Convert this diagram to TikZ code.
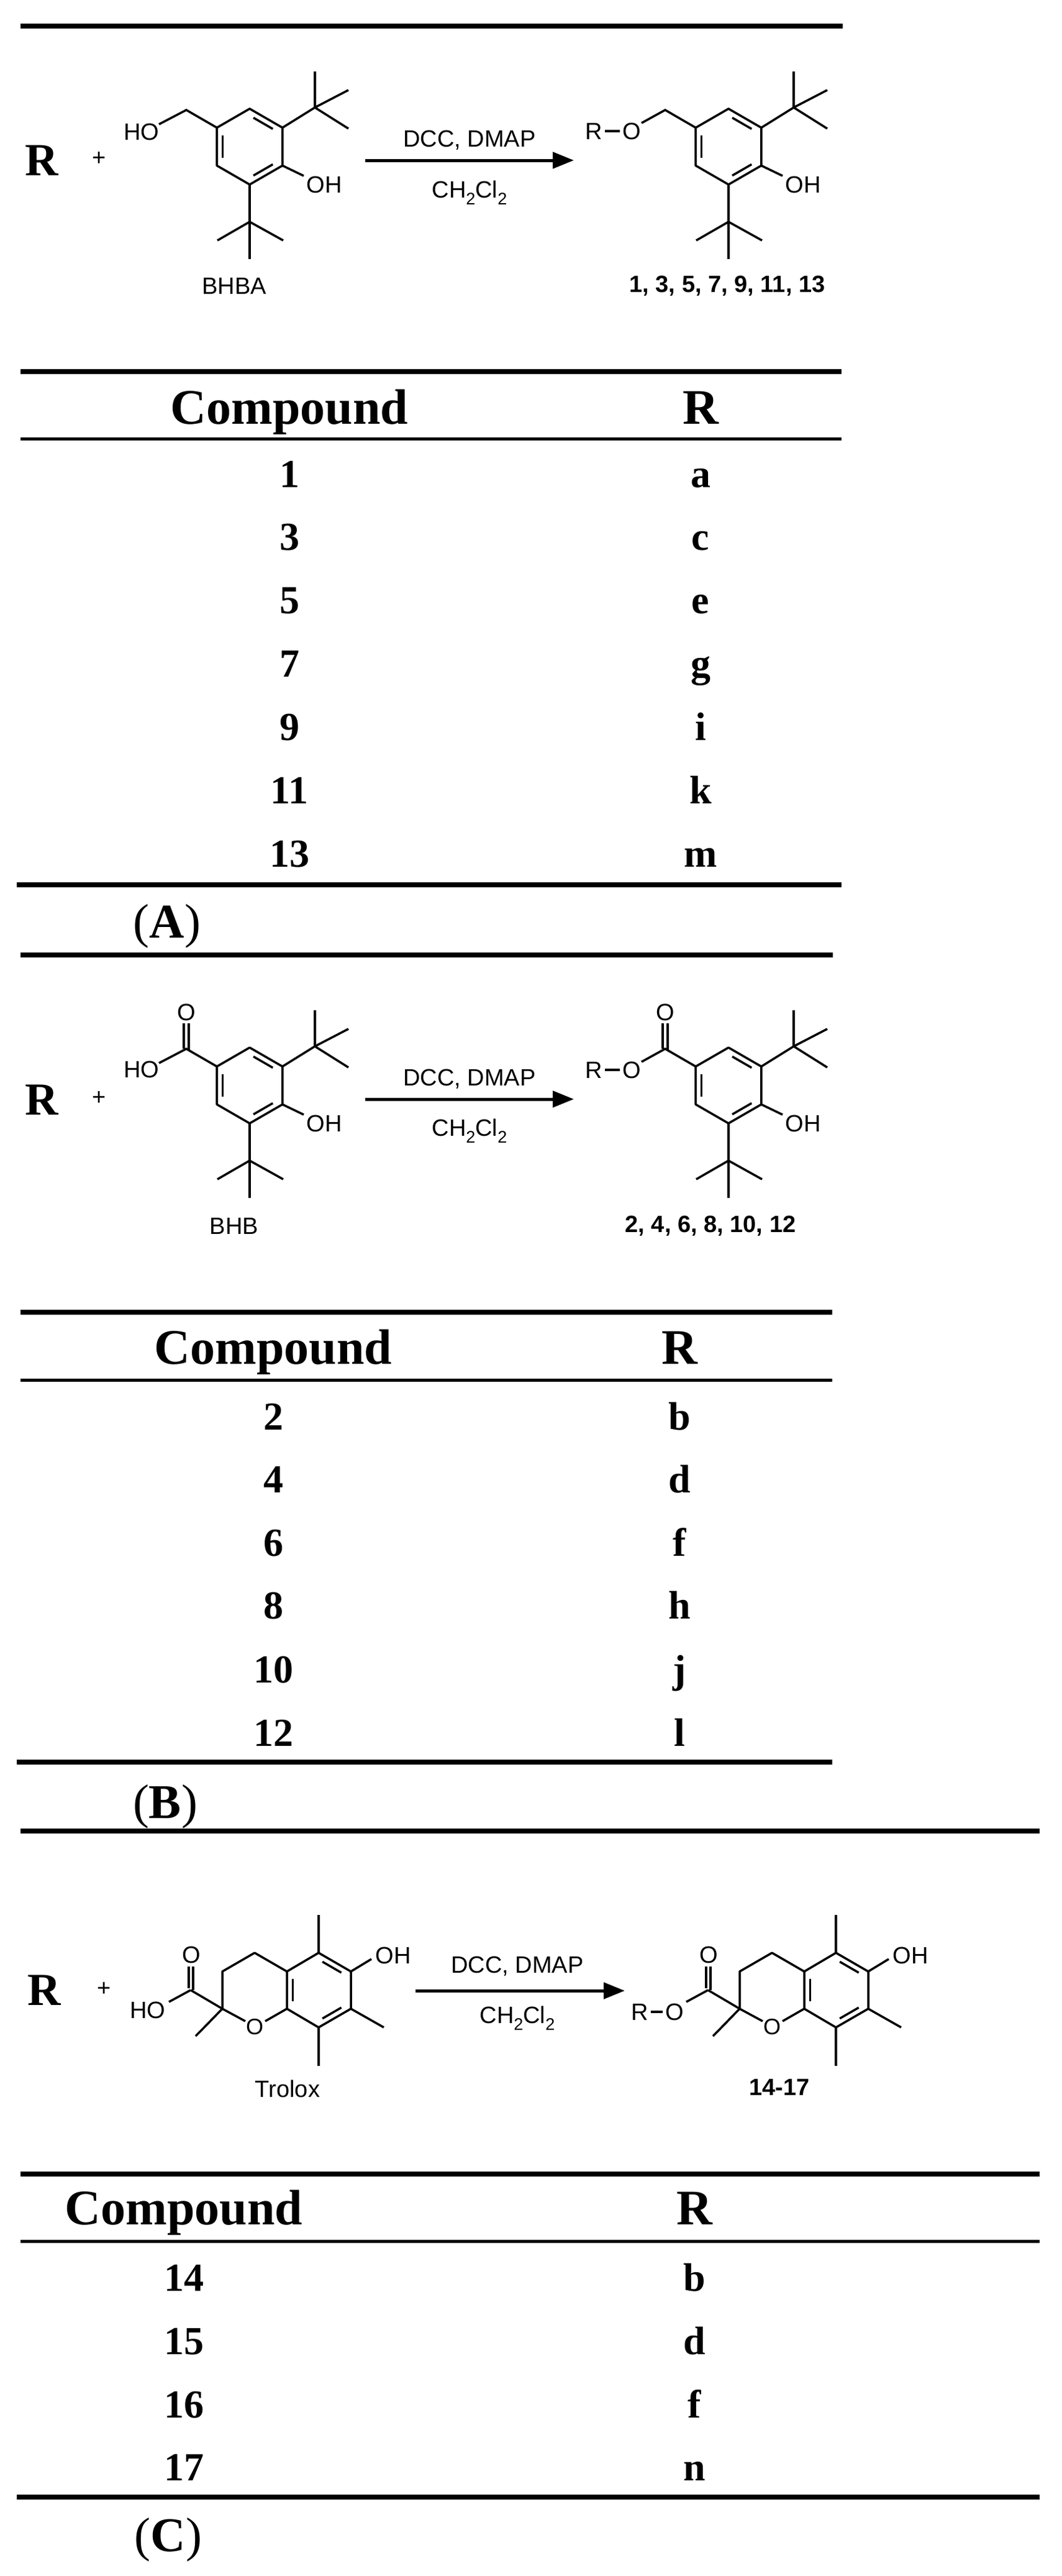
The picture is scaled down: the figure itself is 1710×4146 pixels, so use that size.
\documentclass[tikz,border=0pt]{standalone}
\usepackage{fontspec}
\setmainfont{Liberation Serif}
\newfontfamily\arial{Liberation Sans}
\usetikzlibrary{arrows.meta,calc}
\newcommand\chs[1]{\raisebox{-0.3em}{\fontsize{27}{27}\selectfont #1}}
\tikzset{
  bond/.style={line width=3.5pt},
  lab/.style={font=\arial\fontsize{38}{40}\selectfont, inner sep=0pt},
  blab/.style={font=\arial\bfseries\fontsize{38}{40}\selectfont, inner sep=0pt},
  thickrule/.style={line width=8pt},
  thinrule/.style={line width=5pt},
  hdr/.style={font=\bfseries\fontsize{80}{84}\selectfont, anchor=base, inner sep=0pt},
  cell/.style={font=\bfseries\fontsize{64}{66}\selectfont, anchor=base, inner sep=0pt},
  panel/.style={font=\fontsize{78}{80}\selectfont, anchor=base, inner sep=0pt},
  bigR/.style={font=\bfseries\fontsize{74}{76}\selectfont, inner sep=0pt},
  rxn/.style={line width=5pt, -{Triangle[length=34pt,width=26pt]}}
}
% ring with t-Bu groups and OH, local coordinates around ring centre
\newcommand\bhbcore{%
  \coordinate (C0) at (0,0);
  \coordinate (T) at (0,-61); \coordinate (UR) at (52.8,-30.5);
  \coordinate (LR) at (52.8,30.5); \coordinate (BT) at (0,61);
  \coordinate (LL) at (-52.8,30.5); \coordinate (UL) at (-52.8,-30.5);
  \draw[bond,line join=round] (T)--(UR)--(LR)--(BT)--(LL)--(UL)--cycle;
  \draw[bond,shorten <=7pt,shorten >=7pt] ($(T)!0.18!(C0)$)--($(UR)!0.18!(C0)$);
  \draw[bond,shorten <=7pt,shorten >=7pt] ($(LL)!0.18!(C0)$)--($(UL)!0.18!(C0)$);
  \draw[bond,shorten <=7pt,shorten >=7pt] ($(LR)!0.18!(C0)$)--($(BT)!0.18!(C0)$);
  \draw[bond] (UR)--(105,-63) coordinate (Q1);
  \draw[bond] (Q1)--(105,-121); \draw[bond] (Q1)--(159,-91); \draw[bond] (Q1)--(159,-29);
  \draw[bond] (LR)--(87,47);
  \node[lab] (oh) at (120,61) {OH};
  \draw[bond] (BT)--(0,121) coordinate (Q2);
  \draw[bond] (Q2)--(-52,151); \draw[bond] (Q2)--(54,151); \draw[bond] (Q2)--(0,181);
}
\newcommand\trolox{%
  \coordinate (C5) at (513,3143); \coordinate (C6) at (565,3173);
  \coordinate (C7) at (565,3233); \coordinate (C8) at (513,3263);
  \coordinate (C8a) at (462,3233); \coordinate (C4a) at (462,3173);
  \coordinate (Cc) at (513.5,3203);
  \coordinate (C4) at (410,3143); \coordinate (C3) at (358,3173);
  \coordinate (C2) at (358,3233); \coordinate (CO) at (307,3203);
  \draw[bond,line join=round] (C5)--(C6)--(C7)--(C8)--(C8a)--(C4a)--cycle;
  \draw[bond,shorten <=7pt,shorten >=7pt] ($(C5)!0.18!(Cc)$)--($(C6)!0.18!(Cc)$);
  \draw[bond,shorten <=7pt,shorten >=7pt] ($(C7)!0.18!(Cc)$)--($(C8)!0.18!(Cc)$);
  \draw[bond,shorten <=7pt,shorten >=7pt] ($(C8a)!0.18!(Cc)$)--($(C4a)!0.18!(Cc)$);
  \draw[bond,line join=round] (C4a)--(C4)--(C3)--(C2)--(395,3253);
  \node[lab,font=\arial\fontsize{36}{38}\selectfont] (o1) at (410,3262) {O};
  \draw[bond] (C8a)--(427,3253);
  \draw[bond] (C2)--(315,3277);
  \draw[bond] (C2)--(CO);
  \draw[bond] (304,3200)--(304,3165); \draw[bond] (311,3203)--(311,3165);
  \node[lab] (ocarb) at (308,3146) {O};
  \draw[bond] (C5)--(513,3082);
  \draw[bond] (C6)--(598,3153);
  \node[lab] (oh3) at (633,3147) {OH};
  \draw[bond] (C7)--(618,3263);
  \draw[bond] (C8)--(513,3325);
}
\begin{document}
\begin{tikzpicture}[x=1pt,y=-1pt]
\useasboundingbox (0,0) rectangle (1710,4146);
\fill[white] (0,0) rectangle (1710,4146);

% ===== Scheme A =====
\draw[thickrule] (33,42)--(1357,42);
\node[bigR] (ra) at (67,258) {R};
\node[lab] (pa) at (160,256) {+};
\begin{scope}[shift={(402,236)}]
  \bhbcore
  \draw[bond] (UL)--(-102,-59)--(-146,-36);
  \node[lab] (hoa) at (-174,-24) {HO};
\end{scope}
\node[lab] (bhba) at (377,460) {BHBA};
\coordinate (a1) at (588,258); \coordinate (a2) at (924,258);
\draw[rxn] (a1)--(a2);
\node[lab] (ca1) at (756,226) {DCC, DMAP};
\node[lab] (ca2) at (756,310) {CH\chs{2}Cl\chs{2}};
\begin{scope}[shift={(1173,236)}]
  \bhbcore
  \draw[bond] (UL)--(-102,-59)--(-140,-38);
  \node[lab] (roa) at (-217,-25) {R};
  \node[lab] (ooa) at (-156,-25) {O};
  \draw[bond] (roa.east)++(4,0) -- ($(ooa.west)+(-4,0)$);
\end{scope}
\node[blab] (pra) at (1171,460) {1, 3, 5, 7, 9, 11, 13};

% ===== Table A =====
\draw[thickrule] (33,598)--(1355,598);
\node[hdr] (hca) at (466,682) {Compound};
\node[hdr] (hra) at (1128,682) {R};
\draw[thinrule] (33,706)--(1355,706);
\foreach \n/\r/\y in {1/a/784, 3/c/885, 5/e/987, 7/g/1089, 9/i/1191, 11/k/1293, 13/m/1395}{
  \node[cell] (na\n) at (466,\y) {\n};
  \node[cell] (la\n) at (1128,\y) {\r};
}
\draw[thickrule] (27,1424)--(1355,1424);
\node[panel] (pla) at (269,1509) {(\textbf{A})};
\draw[thickrule] (33,1537)--(1341,1537);

% ===== Scheme B =====
\node[bigR] (rb) at (67,1770) {R};
\node[lab] (pb) at (160,1768) {+};
\begin{scope}[shift={(402,1747)}]
  \bhbcore
  \draw[bond] (UL)--(-102,-59)--(-146,-36);
  \draw[bond] (-106,-59)--(-106,-100); \draw[bond] (-98,-57)--(-98,-100);
  \node[lab] (ob) at (-102,-118) {O};
  \node[lab] (hob) at (-174,-26) {HO};
\end{scope}
\node[lab] (bhb) at (377,1973) {BHB};
\coordinate (b1) at (588,1769); \coordinate (b2) at (924,1769);
\draw[rxn] (b1)--(b2);
\node[lab] (cb1) at (756,1737) {DCC, DMAP};
\node[lab] (cb2) at (756,1820) {CH\chs{2}Cl\chs{2}};
\begin{scope}[shift={(1173,1747)}]
  \bhbcore
  \draw[bond] (UL)--(-102,-59)--(-140,-38);
  \draw[bond] (-106,-59)--(-106,-100); \draw[bond] (-98,-57)--(-98,-100);
  \node[lab] (obp) at (-102,-118) {O};
  \node[lab] (rob) at (-217,-25) {R};
  \node[lab] (oob) at (-156,-25) {O};
  \draw[bond] (rob.east)++(4,0) -- ($(oob.west)+(-4,0)$);
\end{scope}
\node[blab] (prb) at (1144,1973) {2, 4, 6, 8, 10, 12};

% ===== Table B =====
\draw[thickrule] (33,2112)--(1340,2112);
\node[hdr] (hcb) at (440,2195) {Compound};
\node[hdr] (hrb) at (1094,2195) {R};
\draw[thinrule] (33,2221)--(1340,2221);
\foreach \n/\r/\y in {2/b/2301, 4/d/2402, 6/f/2504, 8/h/2605, 10/j/2708, 12/l/2810}{
  \node[cell] (nb\n) at (440,\y) {\n};
  \node[cell] (lb\n) at (1094,\y) {\r};
}
\draw[thickrule] (27,2836)--(1340,2836);
\node[panel] (plb) at (266,2926) {(\textbf{B})};
\draw[thickrule] (33,2947)--(1674,2947);

% ===== Scheme C =====
\node[bigR] (rc) at (71,3203) {R};
\node[lab] (pc) at (168,3201) {+};
\trolox
\draw[bond] (CO)--(272,3222);
\node[lab] (hoc) at (238,3235) {HO};
\node[lab] (trl) at (463,3362) {Trolox};
\coordinate (c1) at (669,3204); \coordinate (c2) at (1006,3204);
\draw[rxn] (c1)--(c2);
\node[lab] (cc1) at (833,3165) {DCC, DMAP};
\node[lab] (cc2) at (833,3248) {CH\chs{2}Cl\chs{2}};
\begin{scope}[shift={(833,0)}]
  \trolox
  \draw[bond] (CO)--(272,3222);
  \node[lab] (roc) at (197,3238) {R};
  \node[lab] (ooc) at (253,3238) {O};
  \draw[bond] (roc.east)++(4,0) -- ($(ooc.west)+(-4,0)$);
\end{scope}
\node[blab] (prc) at (1255,3359) {14-17};

% ===== Table C =====
\draw[thickrule] (33,3499)--(1674,3499);
\node[hdr] (hcc) at (296,3580) {Compound};
\node[hdr] (hrc) at (1118,3580) {R};
\draw[thinrule] (33,3607)--(1674,3607);
\foreach \n/\r/\y in {14/b/3687, 15/d/3789, 16/f/3891, 17/n/3992}{
  \node[cell] (nc\n) at (296,\y) {\n};
  \node[cell] (lc\n) at (1118,\y) {\r};
}
\draw[thickrule] (27,4019)--(1674,4019);
\node[panel] (plc) at (271,4106) {(\textbf{C})};
\end{tikzpicture}
\end{document}
